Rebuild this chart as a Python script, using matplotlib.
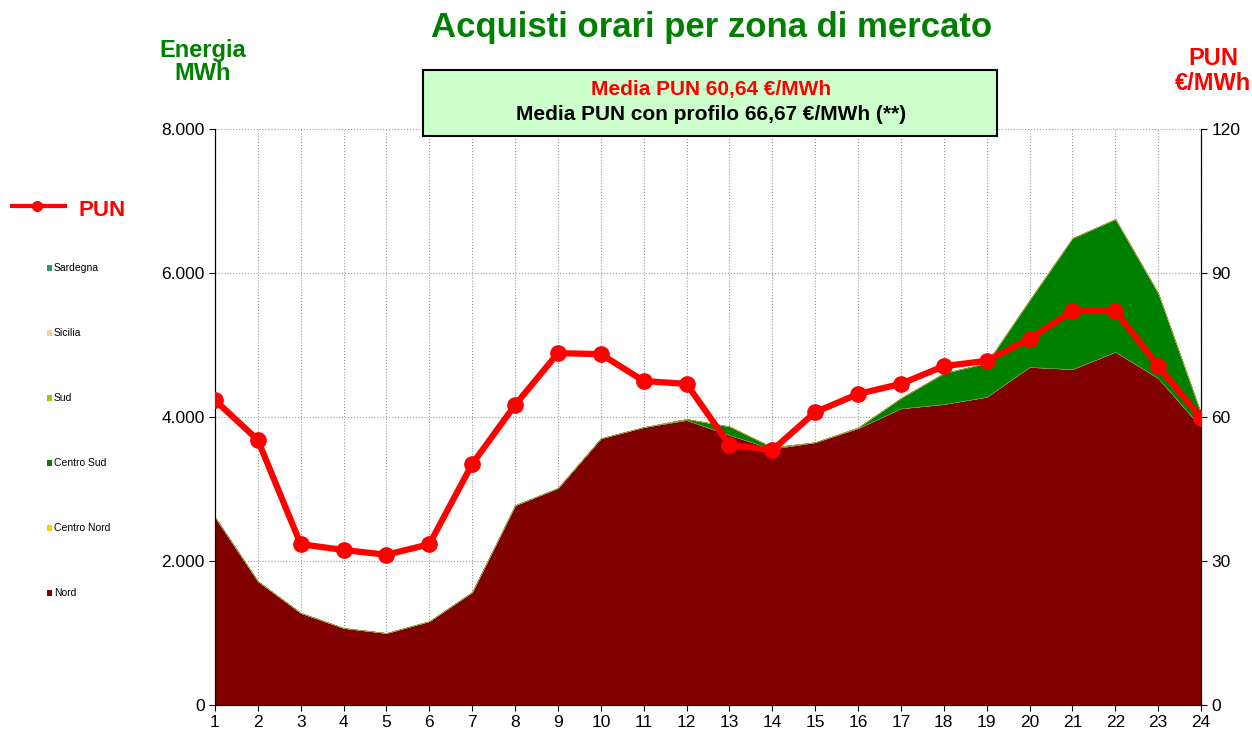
import matplotlib.pyplot as plt
from matplotlib.ticker import FuncFormatter
from matplotlib.lines import Line2D
import numpy as np

# hours and zone purchases (MWh)
ore = list(range(1, 25))
nord = [2610, 1720, 1280, 1070, 1000, 1165, 1570, 2775, 3015, 3705, 3860, 3958,
        3750, 3560, 3650, 3845, 4120, 4180, 4280, 4695, 4665, 4905, 4540, 3860]
centro_nord = [0] * 24
centro_sud = [0, 0, 0, 0, 0, 0, 0, 0, 0, 0, 0, 15,
              120, 20, 0, 10, 145, 430, 470, 930, 1820, 1845, 1180, 190]
sud = [0] * 24
sicilia = [0] * 24
sardegna = [0] * 24

# PUN (EUR/MWh)
pun = [63.5, 55.2, 33.5, 32.3, 31.3, 33.5, 50.2, 62.5, 73.3, 73.1, 67.5, 66.9,
       54.2, 53.1, 61.0, 64.8, 66.9, 70.6, 71.7, 76.3, 82.1, 82.1, 70.6, 59.8]

zone = ["Nord", "Centro Nord", "Centro Sud", "Sud", "Sicilia", "Sardegna"]
colori = ["#800000", "#FFCC00", "#008000", "#99CC00", "#FFCC99", "#339966"]

plt.rcParams['font.family'] = ['Liberation Sans', 'DejaVu Sans']

fig = plt.figure(figsize=(12.52, 7.35), dpi=100)
ax = fig.add_axes([0.1717, 0.0408, 0.7876, 0.7837])

serie = [nord, centro_nord, centro_sud, sud, sicilia, sardegna]
ax.stackplot(ore, *serie, colors=colori, linewidth=0.3,
             edgecolor="#A0A040", zorder=2)

ax.set_xlim(1, 24)
ax.set_ylim(0, 8000)
ax.set_xticks(ore)
ax.set_yticks([0, 2000, 4000, 6000, 8000])
ax.yaxis.set_major_formatter(FuncFormatter(lambda v, p: f"{int(v):,}".replace(",", ".")))
ax.grid(True, color="#999999", linestyle=":", linewidth=0.8, zorder=0)
ax.set_axisbelow(True)
ax.spines["top"].set_visible(False)
ax.tick_params(labelsize=12.5, length=4)

ax2 = ax.twinx()
ax2.plot(ore, pun, color="#FF0000", linewidth=4.5, marker="o", markersize=11, zorder=5)
ax2.set_ylim(0, 120)
ax2.set_yticks([0, 30, 60, 90, 120])
ax2.spines["top"].set_visible(False)
ax2.tick_params(labelsize=12.5, length=4)

# titles and axis captions
fig.text(0.568, 1 - 27 / 735, "Acquisti orari per zona di mercato", color="#008000",
         fontsize=25, fontweight="bold", ha="center", va="center")
fig.text(0.162, 1 - 62 / 735, "Energia\nMWh", color="#008000", fontsize=17,
         fontweight="bold", ha="center", va="center", linespacing=1.05)
fig.text(0.969, 1 - 71 / 735, "PUN\n€/MWh", color="#FF0000", fontsize=17,
         fontweight="bold", ha="center", va="center", linespacing=1.15)

# info box
box = plt.Rectangle((423 / 1252, 1 - 136 / 735), 574 / 1252, 66 / 735,
                    transform=fig.transFigure, facecolor="#CCFFCC",
                    edgecolor="black", linewidth=1.5, zorder=10)
fig.add_artist(box)
fig.text(0.568, 1 - 90 / 735, "Media PUN 60,64 €/MWh", color="#FF0000",
         fontsize=15, fontweight="bold", ha="center", va="center", zorder=11)
fig.text(0.568, 1 - 115 / 735, "Media PUN con profilo 66,67 €/MWh (**)", color="black",
         fontsize=15, fontweight="bold", ha="center", va="center", zorder=11)

# left legend
fig.add_artist(Line2D([12 / 1252, 65 / 1252], [1 - 206 / 735] * 2, color="#FF0000",
                      linewidth=3, transform=fig.transFigure))
fig.add_artist(Line2D([37 / 1252], [1 - 206 / 735], color="#FF0000", marker="o",
                      markersize=7, transform=fig.transFigure))
fig.text(78 / 1252, 1 - 211 / 735, "PUN", color="#FF0000", fontsize=16,
         fontweight="bold", va="center")
for i, (nome, c) in enumerate(zip(zone[::-1], colori[::-1])):
    y = 1 - (268 + 65 * i) / 735
    fig.add_artist(plt.Rectangle((47 / 1252, y - 3 / 735), 5 / 1252, 6 / 735,
                                 transform=fig.transFigure, facecolor=c, edgecolor="none"))
    fig.text(54 / 1252, y, nome, fontsize=7.5, va="center")

fig.savefig("out.png", dpi=100)
